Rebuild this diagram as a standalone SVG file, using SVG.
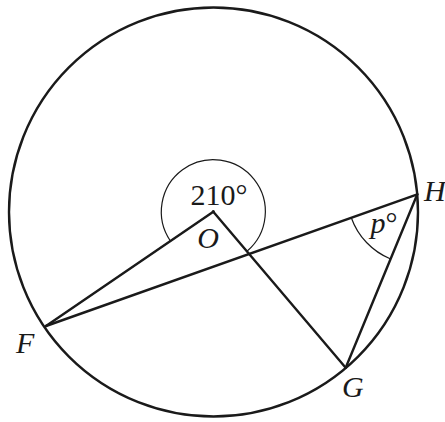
<svg xmlns="http://www.w3.org/2000/svg" width="445" height="422" viewBox="0 0 445 422">
<style>
.thick{fill:none;stroke:#1a1a1a;stroke-width:2.4;stroke-linecap:round;stroke-linejoin:round}
.thin{fill:none;stroke:#1a1a1a;stroke-width:1.2}
.lbl{font-family:"Liberation Serif","Times New Roman",Times,serif;font-size:30px;fill:#1a1a1a}
.it{font-style:italic}
</style>
<rect width="445" height="422" fill="#ffffff"/>
<g id="circle"><circle class="thick" cx="213.5" cy="212" r="204.5"/></g>
<g id="connectors">
<polyline class="thick" points="46,326 213.3,211.7 345.7,367.7"/>
<line class="thick" x1="46" y1="326" x2="417.3" y2="194.3"/>
<line class="thick" x1="417.3" y1="194.3" x2="345.7" y2="367.7"/>
<path class="thin" d="M170.4,241 A52,52 0 1 1 247,251.3"/>
<path class="thin" d="M351.3,217.7 A70,70 0 0 0 390.6,259"/>
</g>
<circle cx="213.3" cy="211.7" r="1.6" fill="#1a1a1a"/>
<g id="O"><text class="lbl it" x="208" y="248" text-anchor="middle">O</text></g>
<g id="angle210"><text class="lbl" x="219" y="205" text-anchor="middle">210°</text></g>
<g id="H"><text class="lbl it" x="424" y="201">H</text></g>
<g id="p"><text class="lbl" x="384" y="233" text-anchor="middle"><tspan class="it">p</tspan>°</text></g>
<g id="F"><text class="lbl it" x="16" y="353">F</text></g>
<g id="G"><text class="lbl it" x="342" y="397">G</text></g>
</svg>
